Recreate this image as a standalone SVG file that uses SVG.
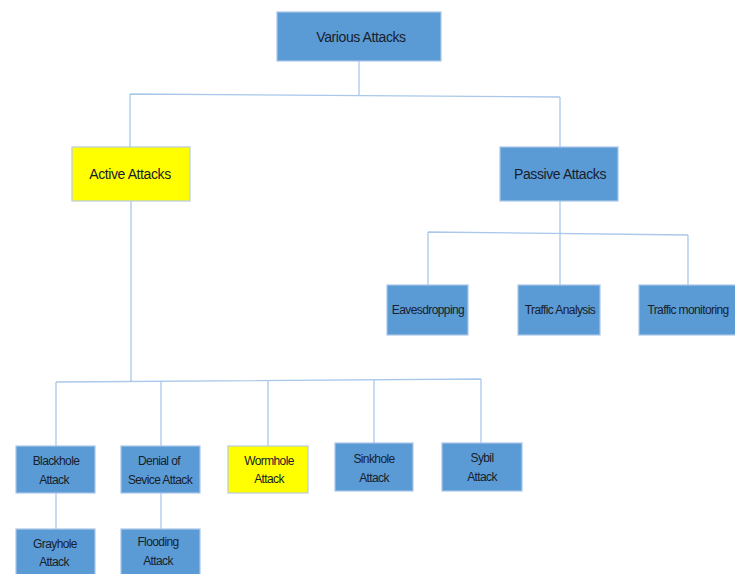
<svg xmlns="http://www.w3.org/2000/svg" width="735" height="574" viewBox="0 0 735 574">
<style>
.b{fill:#5b9bd5;stroke:#a9c6e8;stroke-width:1.2}
.y{fill:#ffff00;stroke:#b8cbe0;stroke-width:1.2}
.t{font-family:"Liberation Sans",Arial,sans-serif;fill:#17202c;text-anchor:middle}
.l{font-size:14px;letter-spacing:-0.4px}
.s{font-size:12px;letter-spacing:-0.6px}
.c{stroke:#a9c8ea;stroke-width:1.3;fill:none}
</style>
<rect width="735" height="574" fill="#fff"/>
<g id="connectors">
<path class="c" d="M359 61V95M130 94L560 97M130 94V147M560 97V147"/>
<path class="c" d="M560 201V285M428 232L688 235M428 232V285M688 235V285"/>
<path class="c" d="M131 201V382M56 382L481 379M56 382V446M161 381V446M268 381V446M374 380V443M481 379V443"/>
<path class="c" d="M56 493V529M161 493V529"/>
</g>
<g id="various"><rect class="b" x="277" y="12" width="164" height="49"/><text class="t l" x="361" y="42">Various Attacks</text></g>
<g id="active"><rect class="y" x="72" y="147" width="118" height="54"/><text class="t l" x="130" y="179">Active Attacks</text></g>
<g id="passive"><rect class="b" x="500" y="147" width="118" height="54"/><text class="t l" x="560" y="179">Passive Attacks</text></g>
<g id="eaves"><rect class="b" x="387" y="285" width="81" height="50"/><text class="t s" x="428" y="314">Eavesdropping</text></g>
<g id="traffic-analysis"><rect class="b" x="518" y="285" width="82" height="50"/><text class="t s" x="560" y="314">Traffic Analysis</text></g>
<g id="traffic-monitoring"><rect class="b" x="639" y="285" width="98" height="50"/><text class="t s" x="688" y="314">Traffic monitoring</text></g>
<g id="blackhole"><rect class="b" x="16" y="446" width="79" height="47"/><text class="t s" x="56" y="465">Blackhole</text><text class="t s" x="54" y="484">Attack</text></g>
<g id="dos"><rect class="b" x="121" y="446" width="79" height="47"/><text class="t s" x="159" y="465">Denial of</text><text class="t s" x="160" y="484">Sevice Attack</text></g>
<g id="wormhole"><rect class="y" x="228" y="446" width="80" height="47"/><text class="t s" x="269" y="465">Wormhole</text><text class="t s" x="269" y="483">Attack</text></g>
<g id="sinkhole"><rect class="b" x="335" y="443" width="78" height="48"/><text class="t s" x="374" y="463">Sinkhole</text><text class="t s" x="374" y="482">Attack</text></g>
<g id="sybil"><rect class="b" x="442" y="443" width="80" height="48"/><text class="t s" x="482" y="462">Sybil</text><text class="t s" x="482" y="481">Attack</text></g>
<g id="grayhole"><rect class="b" x="16" y="529" width="79" height="50"/><text class="t s" x="55" y="548">Grayhole</text><text class="t s" x="54" y="566">Attack</text></g>
<g id="flooding"><rect class="b" x="121" y="529" width="79" height="50"/><text class="t s" x="158" y="546">Flooding</text><text class="t s" x="158" y="565">Attack</text></g>
</svg>
